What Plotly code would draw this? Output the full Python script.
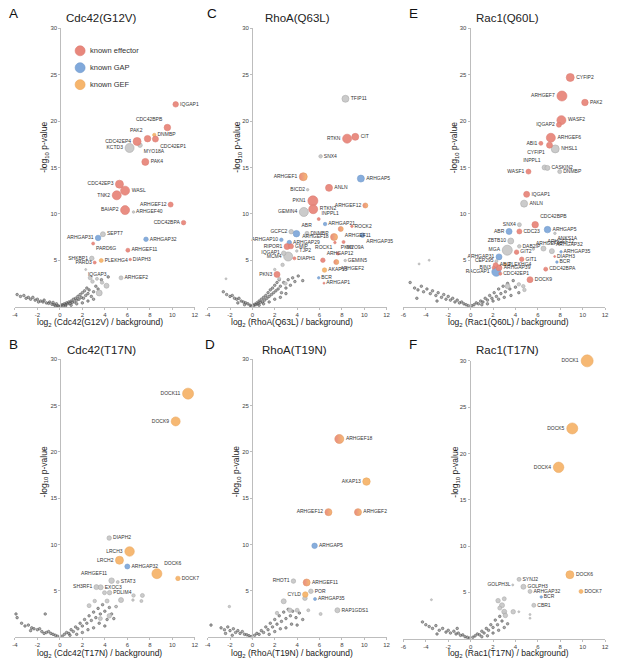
"""
Volcano plots of Rho-GTPase interactors (six bait constructs).

Each panel: log2 enrichment over background vs -log10 p-value, bubble size
tracks protein abundance, colour marks known effectors / GAPs / GEFs.
"""

import plotly.graph_objects as go

W, H = 617, 661

# ---------------------------------------------------------------------------
# Data — labelled hits (name, log2 ratio, -log10 p, class, abundance)
# class: E effector, P GAP, F GEF, H effector+GEF, N other
# an empty name is an unlabelled hit
# ---------------------------------------------------------------------------

A_GENES = ["IQGAP2", "IQGAP1", "CDC42BPB", "DNMBP", "PAK2", "CDC42EP1", "CDC42EP4", "MYO18A",
           "KCTD3", "PAK4", "CDC42EP3", "WASL", "TNK2", "ARHGEF12", "BAIAP2", "ARHGEF40",
           "CDC42BPA", "SEPT7", "ARHGAP31", "ARHGAP32", "PARD6G", "ARHGEF11", "SHKBP1",
           "PLEKHG4", "DIAPH3", "PARD3", "IQGAP3", "ARHGEF2", "", "", "", "", "", ""]
A_X = [9.97, 10.3, 9.56, 8.4, 7.8, 8.5, 6.87, 7.13, 6.2, 7.6, 5.3, 5.8, 5.06, 9.85, 5.8, 6.55,
       11.0, 3.83, 3.4, 7.66, 2.96, 6.05, 2.84, 3.68, 6.26, 3.1, 2.3, 5.44, 2.7, 2.9, 3.3, 3.75, 4.15, 3.5]
A_Y = [30.3, 21.8, 19.3, 18.5, 18.1, 18.06, 17.8, 17.4, 17.1, 15.6, 13.2, 12.5, 12.0, 11.0, 10.4, 10.2,
       9.05, 7.8, 7.4, 7.26, 6.8, 6.08, 5.2, 4.97, 5.08, 4.75, 4.0, 3.1, 3.1, 2.7, 3.0, 2.6, 2.25, 1.47]
A_CLS = ["E", "E", "E", "F", "E", "E", "E", "N", "N", "E", "E", "E", "E", "E", "E", "N",
         "E", "N", "P", "P", "E", "E", "N", "F", "E", "E", "N", "N", "N", "N", "N", "N", "N", "N"]
A_AB = [6, 5.5, 6.5, 3.5, 6.5, 6, 8, 4.5, 9, 7, 8, 9, 9, 5, 9, 2.5,
        4.5, 5, 5.5, 4.5, 3, 4, 4.5, 4, 2.5, 3, 2, 4, 4, 3.5, 3, 3.5, 5, 6]

C_GENES = ["TFIP11", "RTKN", "CIT", "SNX4", "ARHGEF1", "ARHGAP5", "BICD2", "ANLN", "PKN1",
           "ARHGEF12", "RTKN2", "GEMIN4", "INPPL1", "ARHGAP21", "ROCK2", "ARHGEF11", "GCFC2",
           "ABR", "DNMBP", "ARHGAP35", "ARHGAP10", "ARHGEF18", "ARHGAP29", "ROCK1", "MYO9A",
           "RIPOR1", "GMIP", "TJP2", "IQGAP1", "MCM4", "DIAPH1", "PKN2", "ARHGAP12", "GEMIN5",
           "ARHGEF2", "AKAP13", "PKN3", "BCR", "ARHGAP1", "", "", "", "", ""]
C_X = [8.32, 8.47, 9.2, 6.1, 4.55, 9.7, 4.94, 6.85, 5.41, 10.1, 5.44, 4.6, 5.93, 6.5, 8.9, 7.9, 3.47,
       3.94, 4.88, 9.85, 2.59, 7.3, 3.3, 7.38, 8.15, 3.1, 3.45, 3.97, 2.8, 3.2, 3.76, 7.65, 6.3, 8.3,
       7.5, 6.45, 2.2, 5.93, 6.4, 2.7, 2.0, 2.95, 2.4, -2.36]
C_Y = [22.4, 18.1, 18.3, 16.2, 14.0, 13.8, 12.6, 12.8, 11.4, 10.9, 10.5, 10.2, 9.44, 8.9, 8.65, 8.37,
       8.08, 7.86, 7.9, 7.7, 7.2, 7.5, 6.9, 6.9, 6.97, 6.47, 6.5, 6.0, 5.76, 5.4, 5.2, 5.72, 5.0, 4.97,
       4.8, 3.94, 3.47, 3.1, 2.53, 4.5, 4.0, 2.5, 3.0, 3.0]
C_CLS = ["N", "E", "E", "N", "H", "P", "N", "E", "E", "H", "E", "N", "E", "P", "E", "H", "N",
         "P", "N", "P", "P", "H", "P", "E", "E", "E", "E", "N", "N", "N", "E", "E", "E", "N",
         "H", "F", "E", "P", "E", "N", "N", "N", "N", "N"]
C_AB = [7, 9, 7, 3.5, 8, 7, 2.5, 7, 10, 5, 9, 9, 3, 3.5, 2.5, 5, 4.5,
        6.5, 4, 4.5, 3.5, 7, 4.5, 2.5, 3, 6, 5, 2.5, 4.5, 9, 3, 3, 4.5, 2.5,
        5, 4.5, 6, 2.5, 2, 3.5, 2.5, 3.5, 3, 2]

E_GENES = ["CYFIP2", "ARHGEF7", "PAK2", "WASF2", "IQGAP2", "ARHGEF6", "ABI1", "CYFIP1", "NHSL1",
           "INPPL1", "CASKIN2", "WASF1", "DNMBP", "IQGAP1", "ANLN", "SNX4", "CDC42BPB", "ABR",
           "CDC23", "ARHGAP5", "ANKS1A", "ZBTB10", "ARHGEF40", "ARHGEF12", "DAB2IP", "GIT2", "MGA",
           "ARHGAP32", "ARHGAP35", "DIAPH3", "ARHGAP31", "GIT1", "BCR", "CEP295", "ABI2", "PLEKHG4",
           "BIN3", "ARHGAP39", "RACGAP1", "CDC42EP1", "CDC42BPA", "DOCK9", "", "", "", "", "", ""]
E_X = [8.89, 8.15, 10.2, 8.1, 7.88, 7.16, 6.27, 7.04, 7.55, 6.6, 6.85, 5.16, 7.95, 5.0, 4.77, 4.35,
       5.76, 3.43, 4.35, 6.86, 7.52, 3.58, 5.6, 6.5, 4.34, 4.1, 3.27, 7.25, 8.07, 7.5, 2.53, 4.56,
       7.7, 2.3, 2.23, 3.1, 2.05, 2.53, 2.29, 2.65, 6.7, 5.3, 3.3, 4.3, 4.7, 4.8, -3.7, -4.6]
E_Y = [24.7, 22.7, 22.0, 20.1, 19.6, 18.2, 17.6, 17.4, 17.0, 15.0, 14.95, 14.55, 14.55, 12.1, 11.1,
       8.83, 8.83, 8.1, 8.1, 8.3, 7.9, 7.07, 6.2, 6.26, 6.5, 5.87, 6.08, 5.98, 5.9, 5.4, 5.36, 5.1,
       4.8, 4.9, 4.47, 4.55, 4.2, 4.18, 3.75, 3.55, 4.04, 2.9, 2.2, 2.4, 2.2, 1.8, 5.0, 4.6]
E_CLS = ["E", "E", "E", "E", "E", "E", "E", "E", "N", "N", "N", "E", "N", "E", "N", "N",
         "E", "P", "E", "P", "N", "N", "N", "N", "N", "E", "N", "N", "P", "E", "P", "E",
         "P", "N", "E", "F", "E", "E", "P", "E", "E", "E", "N", "N", "N", "N", "N", "N"]
E_AB = [8, 10, 6.5, 9, 5, 9, 4, 6, 8, 5, 5, 5, 4, 6, 7, 4,
        6.5, 6, 5, 6.5, 2.5, 6, 2.5, 5, 3.5, 4.5, 10, 5, 2.5, 2, 6, 4.5,
        2.5, 3, 5, 3, 3, 6, 9, 3, 4, 6, 5, 3.5, 3.5, 3.5, 2, 2]

B_GENES = ["DOCK11", "DOCK9", "DIAPH2", "LRCH3", "LRCH2", "ARHGAP32", "DOCK6", "DOCK7", "ARHGEF11",
           "STAT3", "SH3RF1", "EXOC3", "PDLIM4", "", "", "", "", "", "", "", "", "", "", "", ""]
B_X = [11.4, 10.3, 4.39, 6.2, 5.3, 6.0, 8.63, 10.5, 4.6, 5.15, 3.25, 3.63, 4.42,
       3.97, 5.44, 6.55, 6.5, 7.34, 7.25, 5.0, 4.2, 3.1, 2.6, 4.4, 3.6]
B_Y = [26.3, 23.3, 10.7, 9.25, 8.3, 7.63, 6.85, 6.34, 6.1, 5.95, 5.4, 5.38, 4.8,
       4.8, 4.0, 4.5, 4.0, 4.5, 3.9, 3.3, 3.9, 3.9, 3.4, 2.3, 2.0]
B_CLS = ["F", "F", "N", "F", "F", "P", "F", "F", "N", "N", "N", "N", "N",
         "N", "N", "N", "N", "N", "N", "N", "N", "N", "N", "N", "N"]
B_AB = [11, 9, 4.5, 9.5, 8, 5, 10, 4.5, 5.5, 3, 5, 5, 4.5,
        4, 5, 3.5, 2.5, 4, 3, 2.5, 4, 3.5, 4, 4.5, 4]

D_GENES = ["ARHGEF18", "AKAP13", "ARHGEF12", "ARHGEF2", "ARHGAP5", "RHOT1", "ARHGEF11", "CYLD",
           "POR", "ARHGAP35", "RAP1GDS1", "", "", "", "", "", "", "", ""]
D_X = [7.77, 10.2, 6.8, 9.44, 5.56, 3.67, 4.85, 4.73, 5.23, 5.6, 7.6,
       4.7, 2.8, 3.35, 5.0, 6.1, 4.0, 2.2, -2.06]
D_Y = [21.4, 16.8, 13.5, 13.5, 9.86, 6.05, 5.9, 4.6, 4.95, 4.12, 2.9,
       4.2, 3.87, 2.9, 2.9, 2.5, 2.9, 2.6, 3.3]
D_CLS = ["H", "F", "H", "H", "P", "N", "H", "F", "N", "P", "N",
         "N", "N", "N", "N", "N", "N", "N", "N"]
D_AB = [9, 7.5, 7, 7, 5.5, 4.5, 7, 5.5, 4.5, 3, 5,
        4.5, 5, 4.5, 3, 3, 4, 3.5, 2.5]

F_GENES = ["DOCK1", "DOCK5", "DOCK4", "DOCK6", "DOCK7", "SYNJ2", "GOLPH3L", "GOLPH3", "ARHGAP32",
           "BCR", "CBR1", "", "", "", "", "", "", "", "", "", "", ""]
F_X = [10.4, 9.07, 7.85, 8.86, 9.85, 4.32, 3.76, 4.71, 5.3, 6.3, 5.64,
       2.45, 2.8, 3.0, 3.1, 3.8, 3.0, 2.6, 5.3, 4.3, 5.3, -3.5]
F_Y = [30.0, 22.7, 18.5, 6.9, 5.1, 6.4, 5.8, 5.6, 5.1, 4.5, 3.6,
       4.1, 3.6, 2.9, 2.5, 2.9, 4.3, 3.3, 2.2, 2.9, 2.6, 4.2]
F_CLS = ["F", "F", "F", "F", "F", "N", "N", "N", "N", "P", "N",
         "N", "N", "N", "N", "N", "N", "N", "N", "N", "N", "N"]
F_AB = [12, 11, 10.5, 8, 4, 4, 2, 5, 4, 2.5, 4,
        4.5, 5, 5, 4.5, 4.5, 4, 4, 2, 2, 2, 2]

# ---------------------------------------------------------------------------
# Data — background proteins (the grey "V")
# ---------------------------------------------------------------------------

A_BGX = [-3.8, -3.5, -3.2, -3.0, -2.8, -2.6, -2.4, -2.2, -2.0, -1.9, -1.7, -1.5, -1.4, -1.2, -1.0,
         -0.9, -0.7, -0.5, -0.4, -0.2, -0.1, -0.3, -0.6, 0.1, 0.2, 0.3, 0.4, 0.5, 0.6, 0.7, 0.8, 0.9,
         1.0, 1.1, 1.2, 1.3, 1.4, 1.5, 1.6, 1.7, 1.8, 1.9, 2.0, 2.1, 2.2, 2.3, 2.4, 2.5, 2.6, 2.8,
         3.0, 3.2, 3.4, 3.7, 2.0, 1.5, 2.5, 3.0, 1.0, 0.5, 4.3]
A_BGY = [1.3, 1.1, 1.2, 0.9, 1.0, 0.8, 1.0, 0.7, 0.8, 0.5, 0.6, 0.5, 0.7, 0.4, 0.35,
         0.5, 0.25, 0.2, 0.1, 0.1, 0.05, 0.3, 0.45, 0.1, 0.2, 0.15, 0.3, 0.2, 0.4, 0.3, 0.5, 0.35,
         0.6, 0.45, 0.8, 0.5, 0.9, 0.7, 1.1, 0.8, 1.3, 1.0, 1.5, 0.9, 1.7, 1.2, 2.0, 1.4, 1.8, 1.1,
         1.6, 2.2, 1.9, 2.9, 0.4, 0.3, 0.6, 0.8, 0.15, 0.05, 3.2]

C_BGX = [-2.6, -2.3, -2.0, -1.8, -1.6, -1.4, -1.2, -1.0, -0.8, -0.6, -0.4, -0.2, -0.1, -1.3, -0.7,
         0.1, 0.2, 0.3, 0.4, 0.5, 0.6, 0.7, 0.8, 0.9, 1.0, 1.1, 1.2, 1.3, 1.4, 1.5, 1.6, 1.7, 1.8,
         1.9, 2.0, 2.1, 2.2, 2.3, 2.4, 2.5, 2.6, 2.8, 3.0, 3.2, 3.4, 3.6, 3.8, 4.1, 4.5, 1.5, 2.0,
         2.5, 3.0, 1.0, 0.6]
C_BGY = [1.6, 1.3, 1.1, 1.2, 0.9, 0.8, 0.9, 0.6, 0.5, 0.4, 0.3, 0.15, 0.05, 0.4, 0.2,
         0.1, 0.25, 0.2, 0.4, 0.3, 0.6, 0.45, 0.8, 0.5, 1.0, 0.7, 1.2, 0.9, 1.5, 1.1, 1.8, 1.3, 2.0,
         1.5, 2.3, 1.7, 2.6, 1.9, 2.9, 2.2, 1.5, 2.6, 2.0, 2.9, 2.3, 3.1, 2.7, 3.3, 2.8, 0.5, 0.8,
         1.0, 1.4, 0.3, 0.15]

E_BGX = [-5.4, -5.0, -4.7, -4.4, -4.2, -3.9, -3.6, -3.4, -3.1, -2.9, -2.6, -2.4, -2.2, -2.0, -1.8,
         -1.6, -1.4, -1.2, -1.0, -0.8, -0.6, -0.4, -0.2, -4.8, -3.0, 0.1, 0.3, 0.5, 0.7, 0.9, 1.1,
         1.3, 1.5, 1.7, 1.9, 2.1, 2.3, 2.5, 2.7, 2.9, 3.1, 3.3, 3.5, 3.8, 4.0, 4.3, 1.0, 2.0, 3.0,
         1.5, 2.5, 3.6]
E_BGY = [2.6, 2.0, 1.8, 2.2, 1.6, 1.9, 1.4, 1.7, 1.2, 1.5, 1.0, 1.3, 0.8, 1.1, 0.7,
         0.9, 0.5, 0.7, 0.4, 0.5, 0.3, 0.2, 0.1, 0.9, 0.6, 0.1, 0.2, 0.4, 0.3, 0.6, 0.5,
         0.9, 0.7, 1.2, 0.9, 1.5, 1.1, 1.9, 1.4, 2.2, 1.6, 2.5, 1.9, 2.8, 2.1, 1.5, 0.2, 0.6, 1.0,
         0.3, 0.8, 1.2]

B_BGX = [-3.9, -3.8, -3.4, -3.1, -2.8, -2.5, -2.3, -2.0, -1.8, -1.6, -1.3, -1.2, -1.0, -0.8, -0.6,
         -0.4, -0.2, -1.4, -2.6, 0.2, 0.4, 0.6, 0.8, 1.0, 1.2, 1.4, 1.6, 1.8, 2.0, 2.2, 2.4, 2.6,
         2.8, 3.0, 3.2, 3.4, 3.6, 3.8, 4.0, 4.2, 4.4, 4.6, 4.8, 5.0, 2.0, 3.0, 2.5, 1.5, 3.5, 4.0, 0.9]
B_BGY = [2.5, 2.1, 1.5, 1.2, 1.3, 1.0, 0.9, 0.8, 0.9, 0.6, 2.5, 0.5, 0.6, 0.4, 0.3,
         0.2, 0.1, 0.4, 0.7, 0.1, 0.3, 0.5, 0.4, 0.8, 0.6, 1.1, 0.9, 1.5, 1.2, 1.9, 1.5, 2.3,
         1.8, 2.7, 2.1, 3.1, 2.5, 3.5, 2.8, 1.9, 3.2, 2.5, 2.0, 3.3, 0.5, 1.0, 0.8, 0.3, 1.5, 1.2, 0.2]

D_BGX = [-3.7, -2.8, -2.5, -2.2, -2.0, -1.7, -1.5, -1.3, -1.1, -0.9, -0.7, -0.5, -0.3, -0.1, -2.4,
         -1.8, 0.2, 0.4, 0.6, 0.8, 1.0, 1.2, 1.4, 1.6, 1.8, 2.0, 2.2, 2.4, 2.6, 2.8, 3.0, 3.2, 3.4,
         3.6, 3.9, 4.2, 4.5, 1.5, 2.5, 3.5, 2.0, 3.0, 4.0]
D_BGY = [1.3, 1.0, 0.8, 1.1, 0.7, 0.9, 0.5, 0.7, 0.4, 0.6, 0.3, 0.25, 0.15, 0.05, 0.4,
         0.2, 0.2, 0.4, 0.3, 0.7, 0.5, 1.1, 0.8, 1.5, 1.1, 1.9, 1.4, 2.3, 1.7, 2.7, 2.0, 3.0, 2.3,
         2.8, 2.1, 2.6, 1.9, 0.3, 0.9, 1.4, 0.6, 1.0, 1.3]

F_BGX = [-4.3, -4.0, -3.7, -3.4, -3.1, -2.8, -2.5, -2.2, -2.0, -1.8, -1.5, -1.3, -1.1, -0.9, -0.7,
         -0.5, -0.3, -0.1, -1.2, -3.0, 0.2, 0.4, 0.6, 0.8, 1.0, 1.2, 1.4, 1.6, 1.8, 2.0, 2.2, 2.4,
         2.6, 2.8, 3.0, 1.5, 2.0, 2.5, 3.0, 3.3, 1.0]
F_BGY = [1.8, 1.5, 1.3, 1.1, 1.4, 0.9, 1.1, 0.7, 0.9, 0.6, 0.8, 0.5, 0.6, 0.35, 0.4,
         0.2, 0.15, 0.05, 1.1, 0.5, 0.15, 0.3, 0.5, 0.4, 0.8, 0.6, 1.1, 0.9, 1.5, 1.2, 2.0, 1.5,
         2.4, 1.9, 2.8, 0.3, 0.6, 0.9, 1.2, 1.6, 0.2]

TICKS_AD = [-4, -2, 0, 2, 4, 6, 8, 10, 12]
TICKS_EF = [-6, -4, -2, 0, 2, 4, 6, 8, 10, 12]
Y_TICKS = [5, 10, 15, 20, 25, 30]

# ---------------------------------------------------------------------------
# Style
# ---------------------------------------------------------------------------

FONT = "Arial, Liberation Sans, sans-serif"
FILL = {"E": "#E8877C", "P": "#81A9DB", "F": "#F6B56C", "H": "#E8877C", "N": "#C9C9C9"}
EDGE = {"E": "#DC7B70", "P": "#6F98CB", "F": "#EBA75E", "H": "#E0925F", "N": "#A8A8A8"}
AXIS_COLOR = "#BDBDBD"

# labels that do not sit to the right of their marker
LABEL_POS = {
    "A": {"CDC42BPB": "top left", "PAK2": "top left", "CDC42EP1": "bottom right",
          "CDC42EP4": "middle left", "KCTD3": "middle left", "MYO18A": "bottom right",
          "CDC42EP3": "middle left", "TNK2": "middle left", "ARHGEF12": "middle left",
          "BAIAP2": "middle left", "CDC42BPA": "middle left", "ARHGAP31": "middle left",
          "PARD6G": "bottom right", "SHKBP1": "middle left", "PARD3": "middle left",
          "IQGAP3": "bottom right"},
    "C": {"RTKN": "middle left", "ARHGEF1": "middle left", "BICD2": "middle left",
          "PKN1": "middle left", "ARHGEF12": "middle left", "GEMIN4": "middle left",
          "GCFC2": "middle left", "ABR": "top right", "ARHGAP35": "bottom right",
          "ARHGAP10": "middle left", "ARHGEF18": "middle left", "ROCK1": "bottom left",
          "MYO9A": "bottom right", "RIPOR1": "middle left", "IQGAP1": "middle left",
          "MCM4": "middle left", "ARHGAP12": "top right", "ARHGEF2": "bottom right",
          "PKN3": "middle left", "INPPL1": "top right", "ARHGEF11": "bottom right",
          "PKN2": "top right"},
    "E": {"ARHGEF7": "middle left", "IQGAP2": "middle left", "ABI1": "middle left",
          "CYFIP1": "bottom left", "INPPL1": "top left", "WASF1": "middle left",
          "SNX4": "middle left", "ABR": "middle left", "ANKS1A": "bottom right",
          "ZBTB10": "middle left", "ARHGEF40": "top right", "ARHGEF12": "top right",
          "MGA": "middle left", "ARHGAP32": "top right", "ARHGAP31": "middle left",
          "CEP295": "middle left", "BIN3": "middle left", "RACGAP1": "middle left",
          "CDC42BPB": "top right"},
    "B": {"DOCK11": "middle left", "DOCK9": "middle left", "LRCH3": "middle left",
          "LRCH2": "middle left", "ARHGEF11": "top left", "SH3RF1": "middle left",
          "DOCK6": "top right"},
    "D": {"AKAP13": "middle left", "ARHGEF12": "middle left", "RHOT1": "middle left",
          "CYLD": "middle left"},
    "F": {"DOCK1": "middle left", "DOCK5": "middle left", "DOCK4": "middle left",
          "GOLPH3L": "middle left"},
}

# panel layout in page pixels: x-axis px span, y px of 0 and 30, y-axis px position
PANELS = [
    dict(key="A", title="Cdc42(G12V)", xr=[-4, 12], ticks=TICKS_AD, xpx=(12, 194), ypx=(305, 25.4), x0px=58,
         genes=A_GENES, x=A_X, y=A_Y, cls=A_CLS, ab=A_AB, bgx=A_BGX, bgy=A_BGY),
    dict(key="C", title="RhoA(Q63L)", xr=[-4, 12], ticks=TICKS_AD, xpx=(207, 388), ypx=(305, 25.4), x0px=252,
         genes=C_GENES, x=C_X, y=C_Y, cls=C_CLS, ab=C_AB, bgx=C_BGX, bgy=C_BGY),
    dict(key="E", title="Rac1(Q60L)", xr=[-6, 12], ticks=TICKS_EF, xpx=(405, 609), ypx=(305, 25.4), x0px=472,
         genes=E_GENES, x=E_X, y=E_Y, cls=E_CLS, ab=E_AB, bgx=E_BGX, bgy=E_BGY),
    dict(key="B", title="Cdc42(T17N)", xr=[-4, 12], ticks=TICKS_AD, xpx=(12, 194), ypx=(637, 358), x0px=58,
         genes=B_GENES, x=B_X, y=B_Y, cls=B_CLS, ab=B_AB, bgx=B_BGX, bgy=B_BGY),
    dict(key="D", title="RhoA(T19N)", xr=[-4, 12], ticks=TICKS_AD, xpx=(207, 388), ypx=(637, 358), x0px=252,
         genes=D_GENES, x=D_X, y=D_Y, cls=D_CLS, ab=D_AB, bgx=D_BGX, bgy=D_BGY),
    dict(key="F", title="Rac1(T17N)", xr=[-6, 12], ticks=TICKS_EF, xpx=(405, 609), ypx=(638.5, 359.5), x0px=472,
         genes=F_GENES, x=F_X, y=F_Y, cls=F_CLS, ab=F_AB, bgx=F_BGX, bgy=F_BGY),
]

# text placement (page px): title centre, panel letter, x-title centre, y-title centre
TEXT_POS = {
    "A": dict(title=(99, 15), letter=(11, 11), xt=(98, 321), yt=(42, 145)),
    "C": dict(title=(298, 15), letter=(211, 11), xt=(292, 321), yt=(237, 145)),
    "E": dict(title=(510, 15), letter=(415, 11), xt=(511, 321), yt=(457, 145)),
    "B": dict(title=(100, 349), letter=(11, 343), xt=(98, 653), yt=(42, 471)),
    "D": dict(title=(295, 349), letter=(209, 343), xt=(292, 653), yt=(237, 471)),
    "F": dict(title=(510, 349), letter=(415, 343), xt=(511, 653), yt=(458, 471)),
}


def px_x(p):
    return p / W


def px_y(p):
    return 1 - p / H


def add_panel(fig, i, p):
    sfx = "" if i == 0 else str(i + 1)
    xa, ya = "x" + sfx, "y" + sfx
    key = p["key"]

    fig.update_layout(**{
        "xaxis" + sfx: dict(
            domain=[px_x(p["xpx"][0]), px_x(p["xpx"][1])], range=p["xr"], anchor=ya,
            tickvals=p["ticks"], ticktext=[str(t) for t in p["ticks"]],
            showline=True, linecolor=AXIS_COLOR, linewidth=1, ticks="outside", ticklen=2,
            tickcolor=AXIS_COLOR, showgrid=False, zeroline=False,
            tickfont=dict(size=6, color="#444", family=FONT),
        ),
        "yaxis" + sfx: dict(
            domain=[px_y(p["ypx"][0]), px_y(p["ypx"][1])], range=[0, 30], anchor="free",
            position=px_x(p["x0px"]), tickvals=Y_TICKS,
            showline=True, linecolor=AXIS_COLOR, linewidth=1, ticks="outside", ticklen=2,
            tickcolor=AXIS_COLOR, showgrid=False, zeroline=False,
            tickfont=dict(size=6, color="#444", family=FONT),
        ),
    })

    # background cloud
    fig.add_trace(go.Scatter(
        x=p["bgx"], y=p["bgy"], xaxis=xa, yaxis=ya, mode="markers", cliponaxis=False,
        marker=dict(size=2.6, color="rgba(115,115,115,0.6)", line=dict(color="#4a4a4a", width=0.5)),
        showlegend=False, hoverinfo="skip",
    ))

    # hits, grey first so coloured ones sit on top; bigger bubbles drawn first
    pos = LABEL_POS.get(key, {})
    for c in ["N", "P", "F", "E", "H"]:
        idx = [j for j, k in enumerate(p["cls"]) if k == c]
        idx.sort(key=lambda j: -p["ab"][j])
        for labelled in (False, True):
            sel = [j for j in idx if bool(p["genes"][j]) == labelled]
            if not sel:
                continue
            marker = dict(
                size=[p["ab"][j] for j in sel], color=FILL[c], opacity=0.95,
                line=dict(color=EDGE[c], width=0.6),
            )
            if c == "H":
                marker["gradient"] = dict(type="horizontal", color=FILL["F"])
            tr = dict(
                x=[p["x"][j] for j in sel], y=[p["y"][j] for j in sel], xaxis=xa, yaxis=ya,
                mode="markers", cliponaxis=False, marker=marker, showlegend=False, hoverinfo="x+y",
            )
            if labelled:
                names = [p["genes"][j] for j in sel]
                tr.update(
                    mode="markers+text", text=names, hovertext=names, hoverinfo="text+x+y",
                    textposition=[pos.get(n, "middle right") for n in names],
                    textfont=dict(size=5, color="#333", family=FONT),
                )
            fig.add_trace(go.Scatter(**tr))

    t = TEXT_POS[key]
    anns = [
        dict(text=p["title"], x=px_x(t["title"][0]), y=px_y(t["title"][1]),
             font=dict(size=11.5, color="#222", family=FONT)),
        dict(text=key, x=px_x(t["letter"][0]), y=px_y(t["letter"][1]),
             font=dict(size=13.5, color="#111", family=FONT)),
        dict(text=f"log<sub>2</sub> ({p['title']} / background)", x=px_x(t["xt"][0]), y=px_y(t["xt"][1]),
             font=dict(size=8.5, color="#222", family=FONT)),
        dict(text="-log<sub>10</sub> p-value", x=px_x(t["yt"][0]), y=px_y(t["yt"][1]), textangle=-90,
             font=dict(size=8.5, color="#222", family=FONT)),
    ]
    for a in anns:
        fig.add_annotation(xref="paper", yref="paper", showarrow=False, xanchor="center", yanchor="middle", **a)


fig = go.Figure()
for i, p in enumerate(PANELS):
    add_panel(fig, i, p)

# in-panel key (panel A)
LEGEND_ITEMS = [("known effector", "E", 48), ("known GAP", "P", 65), ("known GEF", "F", 82)]
for label, c, ypx in LEGEND_ITEMS:
    fig.add_shape(type="circle", xref="paper", yref="paper", xsizemode="pixel", ysizemode="pixel",
                  xanchor=px_x(78), yanchor=px_y(ypx), x0=-5, x1=5, y0=-5, y1=5,
                  fillcolor=FILL[c], line=dict(color=EDGE[c], width=0.6))
    fig.add_annotation(text=label, xref="paper", yref="paper", x=px_x(86), y=px_y(ypx),
                       xanchor="left", yanchor="middle", showarrow=False,
                       font=dict(size=7.5, color="#333", family=FONT))

fig.update_layout(
    width=W, height=H, margin=dict(l=0, r=0, t=0, b=0),
    paper_bgcolor="white", plot_bgcolor="white", showlegend=False,
    font=dict(family=FONT),
)

# page body has a default 8px margin; drop it so the figure sits at the window corner
fig.write_html(
    "out.html",
    config={"displayModeBar": False},
    post_script="document.body.style.margin='0';document.body.style.overflow='hidden';",
)
